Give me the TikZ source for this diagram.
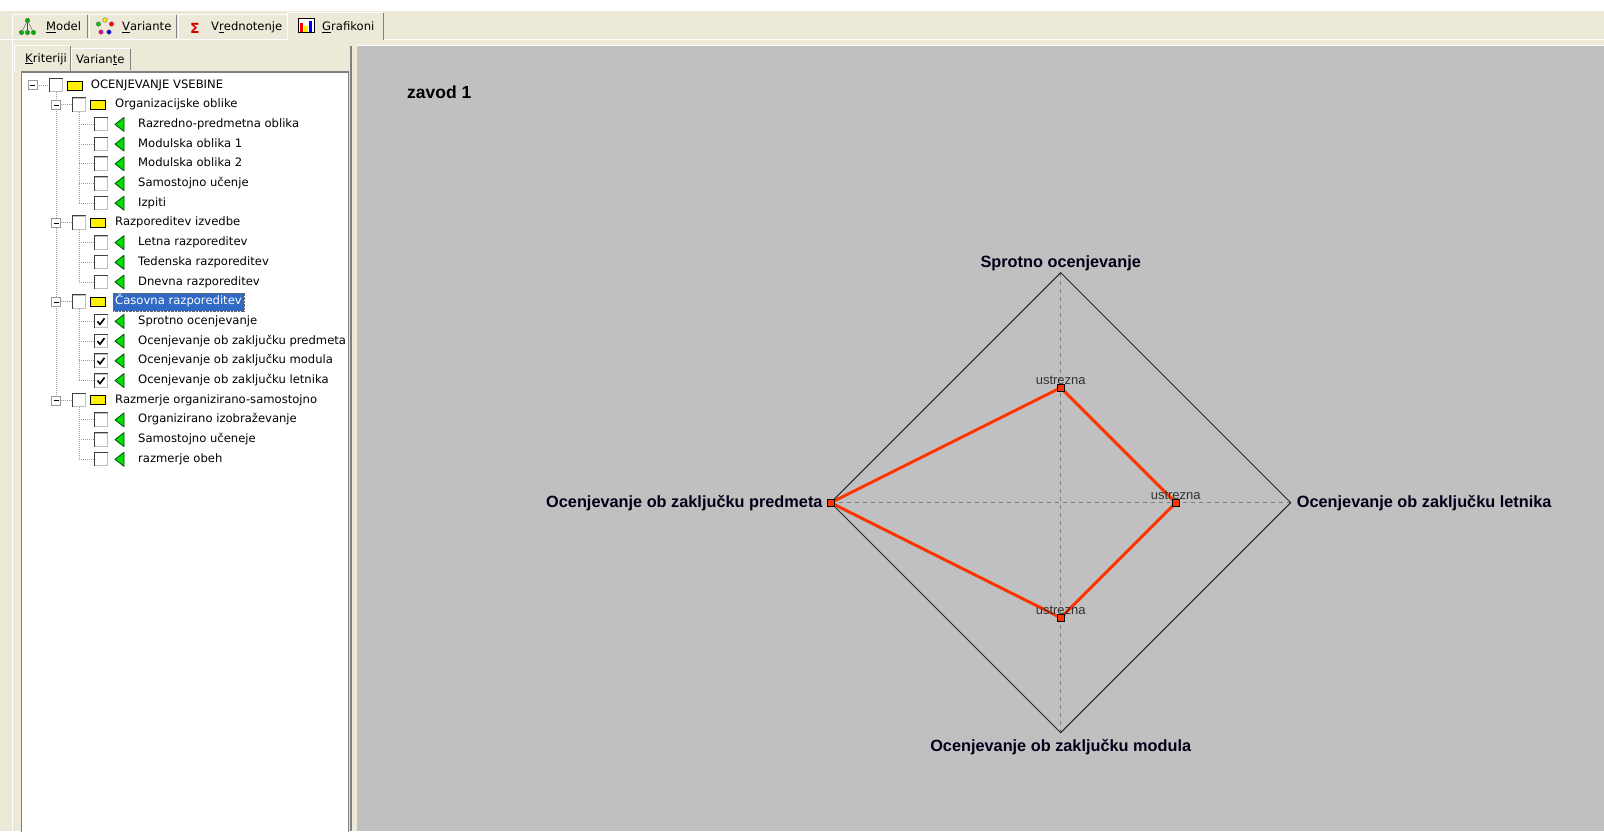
\documentclass[tikz,border=0pt]{standalone}
\usepackage{fontspec}
\setmainfont{DejaVu Sans}
\newfontfamily\arialfont{Liberation Sans}
\usetikzlibrary{positioning}
\definecolor{winbg}{HTML}{ECE9D8}
\definecolor{chartbg}{HTML}{C0C0C0}
\definecolor{treegray}{HTML}{A0A0A0}
\definecolor{selblue}{HTML}{316AC5}
\definecolor{leafgreen}{HTML}{00E000}
\definecolor{serired}{HTML}{FF3300}
\definecolor{boxgray}{HTML}{808080}
\definecolor{darkgray}{HTML}{404040}
\tikzset{
    tabbox/.style = {rectangle, fill=winbg, minimum height=23pt, inner sep=0pt},
    tabtext/.style = {anchor=west, inner sep=0pt, text height=9pt, text depth=2.5pt, font=\fontsize{11.6}{13}\selectfont},
    hilite/.style = {draw=white, line width=1pt},
    shade/.style = {draw=boxgray, line width=1pt},
    icondot/.style = {circle, draw=black!60, minimum size=4.5pt, inner sep=0pt},
    iconbar/.style = {rectangle, anchor=south, minimum width=3.5pt, inner sep=0pt},
    expander/.style = {rectangle, draw=boxgray!80, fill=white, minimum size=9pt, inner sep=0pt,
        path picture={\draw[black] ([xshift=2pt]path picture bounding box.west) -- ([xshift=-2pt]path picture bounding box.east);}},
    chkbox/.style = {rectangle, draw=boxgray!50, fill=white, line width=1pt, minimum size=13pt, inner sep=0pt},
    chkon/.style = {chkbox, path picture={\draw[black, line width=1.6pt] ([shift={(-3.5,0)}]path picture bounding box.center) -- ++(2.5,3) -- ++(4.5,-6);}},
    folder/.style = {rectangle, draw=black, fill=yellow, line width=1pt, minimum width=15pt, minimum height=9pt, inner sep=0pt},
    treetext/.style = {anchor=west, inner xsep=2pt, inner ysep=3pt, text height=9pt, text depth=3pt, font=\fontsize{11.6}{13}\selectfont},
    seltext/.style = {treetext, fill=selblue, text=white, draw=black!60, densely dotted},
    treeedge/.style = {draw=treegray, line width=1pt, dash pattern=on 1pt off 1pt},
    leaf/.style = {fill=leafgreen, draw=green!30!black, line width=0.8pt, line join=round},
    frameline/.style = {draw=black!85, line width=1pt},
    axisline/.style = {draw=boxgray, line width=1pt, dash pattern=on 4pt off 4pt},
    serie/.style = {draw=serired, line width=3pt, line join=round},
    pointmark/.style = {rectangle, draw=black, fill=serired, line width=1pt, minimum size=7pt, inner sep=0pt},
    axislabel/.style = {inner sep=0pt, font=\arialfont\bfseries\fontsize{16.3}{18}\selectfont, text=black!90!blue},
    valuelabel/.style = {inner sep=0pt, font=\arialfont\fontsize{13}{15}\selectfont, text=black!80},
    titletext/.style = {anchor=west, inner sep=0pt, font=\arialfont\bfseries\fontsize{17.5}{19}\selectfont}
}
\begin{document}
\begin{tikzpicture}[x=1pt, y=-1pt]
\useasboundingbox (0,0) rectangle (1604,831);

% window and panels
\fill[white] (0,0) rectangle (1604,11);
\fill[winbg] (0,11) rectangle (1604,831);
\fill[chartbg] (357,46) rectangle (1604,831);
\draw[hilite] (0,39) -- (288,39);
\draw[hilite] (383,39) -- (1604,39);
\draw[hilite] (357,45.5) -- (1604,45.5);
\draw[hilite] (12,40) -- (12,831);

% main tabs
\foreach \nm/\cx/\w in {model/50/74, variante/133/86, vrednotenje/233/108} {
  \node[tabbox, minimum width=\w pt] (tab\nm) at (\cx,26.5) {};
  \draw[hilite] (tab\nm.south west) |- (tab\nm.north east);
  \draw[shade] (tab\nm.north east) -- (tab\nm.south east);
}
\node[tabbox, minimum width=95pt, minimum height=27pt] (tabgrafikoni) at (335.5,26.5) {};
\draw[hilite] (tabgrafikoni.south west) |- (tabgrafikoni.north east);
\draw[shade] (tabgrafikoni.north east) -- (tabgrafikoni.south east);

\node[tabtext] (lmodel) at (46,27.5) {\underline{M}odel};
\node[tabtext] (lvariante) at (122,27.5) {\underline{V}ariante};
\node[tabtext] (lvrednotenje) at (211,27.5) {V\underline{r}ednotenje};
\node[tabtext] (lgrafikoni) at (322,27) {\underline{G}rafikoni};

% tab icons
\foreach \nx/\ny [count=\k] in {27.5/20.5, 21.5/32.5, 27.5/32.5, 33.5/32.5}
  \node[icondot, fill=green!70!black] (md\k) at (\nx,\ny) {};
\draw[black!70] (md1) -- (md2);
\draw[black!70] (md1) -- (md3);
\draw[black!70] (md1) -- (md4);
\foreach \nx/\ny/\col [count=\k] in {98.5/24/green!80!black, 105/20/yellow, 111.5/24/red, 101/32/magenta, 109/32/blue}
  \node[icondot, fill=\col] (vd\k) at (\nx,\ny) {};
\node[font=\bfseries\fontsize{14}{14}\selectfont, text=red!85!black, inner sep=0pt] (sigma) at (195,28.5) {Σ};
\node[rectangle, draw=black, fill=white, minimum width=16pt, minimum height=14pt, inner sep=0pt] (gicon) at (306,25.5) {};
\node[iconbar, fill=red, minimum height=9pt] (gbar1) at ([xshift=-4.5pt, yshift=1pt]gicon.south) {};
\node[iconbar, fill=yellow, minimum height=6pt] (gbar2) at ([yshift=1pt]gicon.south) {};
\node[iconbar, fill=blue, minimum height=11pt] (gbar3) at ([xshift=4.5pt, yshift=1pt]gicon.south) {};

% inner tabs
\node[tabbox, minimum width=55pt, minimum height=26pt] (tkrit) at (42.5,59) {};
\node[tabbox, minimum width=58pt, minimum height=21pt] (tvar) at (101,59.5) {};
\draw[hilite] (tkrit.south west) |- (tkrit.north east);
\draw[shade] (tkrit.north east) -- (tkrit.south east);
\draw[hilite] (tvar.south west) |- (tvar.north east);
\draw[shade] (tvar.north east) -- (tvar.south east);
\node[tabtext] (lkrit) at (25,59) {\underline{K}riteriji};
\node[tabtext] (lvar) at (76,60) {Varian\underline{t}e};

% tree box
\node[rectangle, fill=white, draw=boxgray, line width=1.5pt, minimum width=327pt, minimum height=762pt, anchor=north west, inner sep=0pt] (treebox) at (20.5,71) {};
\draw[shade, line width=2pt] (351,46) -- (351,831);

% root
\node[expander] (ex0) at (32.5,85) {};
\node[chkbox] (cb0) at (56,85) {};
\node[folder] (fd0) at (74.5,85.5) {};
\node[treetext] (tx0) at (88.7,85) {OCENJEVANJE VSEBINE};
\draw[treeedge] (ex0.east) -- (cb0.west);

% groups
\foreach \i/\txt/\sty in {1/Organizacijske oblike/treetext, 7/Razporeditev izvedbe/treetext,
    11/Časovna razporeditev/seltext, 16/Razmerje organizirano-samostojno/treetext} {
  \pgfmathsetmacro\ry{85+19.7*\i}
  \node[expander] (ex\i) at (56,\ry) {};
  \node[chkbox] (cb\i) at (79,\ry) {};
  \node[folder] (fd\i) at (98,\ry) {};
  \node[\sty] (tx\i) at (113,\ry) {\txt};
  \draw[treeedge] (ex\i.east) -- (cb\i.west);
}

% criteria
\foreach \i/\txt/\chk in {2/Razredno-predmetna oblika/chkbox, 3/Modulska oblika 1/chkbox,
    4/Modulska oblika 2/chkbox, 5/Samostojno učenje/chkbox, 6/Izpiti/chkbox,
    8/Letna razporeditev/chkbox, 9/Tedenska razporeditev/chkbox, 10/Dnevna razporeditev/chkbox,
    12/Sprotno ocenjevanje/chkon, 13/Ocenjevanje ob zaključku predmeta/chkon,
    14/Ocenjevanje ob zaključku modula/chkon, 15/Ocenjevanje ob zaključku letnika/chkon,
    17/Organizirano izobraževanje/chkbox, 18/Samostojno učeneje/chkbox, 19/razmerje obeh/chkbox} {
  \pgfmathsetmacro\ry{85+19.7*\i}
  \node[\chk] (cb\i) at (101,\ry) {};
  \coordinate (lf\i) at (119.5,\ry);
  \path[leaf] (lf\i) ++(-4.5,0) -- ++(9,-7) -- ++(0,14) -- cycle;
  \node[treetext] (tx\i) at (136,\ry) {\txt};
}

\foreach \i in {0,1,...,19}
  \draw[darkgray, line width=1pt] (cb\i.south west) |- (cb\i.north east);

% tree lines
\draw[treeedge] (cb0.south) -- (ex1.north);
\draw[treeedge] (ex1.south) -- (ex7.north);
\draw[treeedge] (ex7.south) -- (ex11.north);
\draw[treeedge] (ex11.south) -- (ex16.north);
\foreach \g/\last/\kids in {1/6/{2,3,4,5,6}, 7/10/{8,9,10}, 11/15/{12,13,14,15}, 16/19/{17,18,19}} {
  \draw[treeedge] (cb\g.south) -- (cb\g.south |- cb\last.west);
  \foreach \j in \kids
    \draw[treeedge] (cb\g.south |- cb\j.west) -- (cb\j.west);
}

% chart
\node[titletext] (zavod) at (407,92.5) {zavod 1};

\coordinate (ctr) at (1060.7,502.7);
\coordinate (st) at (1060.7,272.7);
\coordinate (sr) at (1290.7,502.7);
\coordinate (sb) at (1060.7,732.7);
\coordinate (sl) at (830.7,502.7);
\draw[axisline] (st) -- (sb);
\draw[axisline] (sl) -- (sr);
\draw[frameline] (st) -- (sr) -- (sb) -- (sl) -- cycle;

\coordinate (vt) at (1060.7,387.7);
\coordinate (vr) at (1175.7,502.7);
\coordinate (vb) at (1060.7,617.7);
\coordinate (vl) at (sl);
\draw[serie] (vt) -- (vr) -- (vb) -- (vl) -- cycle;
\node[pointmark] (pt) at (vt) {};
\node[pointmark] (pr) at (vr) {};
\node[pointmark] (pb) at (vb) {};
\node[pointmark] (pl) at (vl) {};

\node[valuelabel, above=-1pt of pt] (ut) {ustrezna};
\node[valuelabel, above=-1pt of pr] (ur) {ustrezna};
\node[valuelabel, above=-1pt of pb] (ub) {ustrezna};

\node[axislabel, above=2pt of st] (lsprotno) {Sprotno ocenjevanje};
\node[axislabel, right=6pt of sr] (lletnik) {Ocenjevanje ob zaključku letnika};
\node[axislabel, below=6pt of sb] (lmodul) {Ocenjevanje ob zaključku modula};
\node[axislabel, left=8pt of sl] (lpredmet) {Ocenjevanje ob zaključku predmeta};

\end{tikzpicture}
\end{document}
